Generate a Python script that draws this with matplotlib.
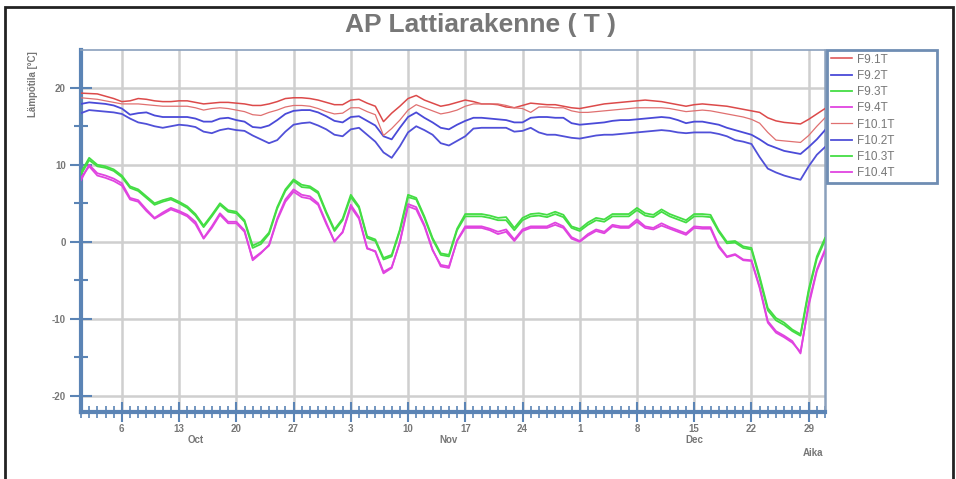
import numpy as np
import matplotlib
matplotlib.use("Agg")
import matplotlib.pyplot as plt
import matplotlib.dates as mdates
from matplotlib.ticker import FuncFormatter, MultipleLocator
from matplotlib.patches import Rectangle

plt.rcParams['font.family'] = ['Liberation Sans', 'DejaVu Sans']
plt.rcParams['axes.unicode_minus'] = False

# daily readings, 1 Oct .. 31 Dec
days = np.arange(np.datetime64('2014-10-01'), np.datetime64('2015-01-01'))

f9_1 = [19.3, 19.25, 19.2, 18.9, 18.6, 18.2, 18.3, 18.6, 18.5, 18.3,
        18.2, 18.2, 18.3, 18.3, 18.1, 17.9, 18.0, 18.1, 18.1, 18.0,
        17.9, 17.7, 17.7, 17.9, 18.2, 18.6, 18.7, 18.7, 18.6, 18.4,
        18.1, 17.8, 17.8, 18.4, 18.5, 18.0, 17.6, 15.6, 16.7, 17.6,
        18.6, 19.0, 18.4, 18.0, 17.6, 17.8, 18.1, 18.4, 18.2, 17.9,
        17.9, 17.8, 17.5, 17.4, 17.7, 18.0, 17.9, 17.8, 17.8, 17.6,
        17.4, 17.3, 17.5, 17.7, 17.9, 18.0, 18.1, 18.2, 18.3, 18.4,
        18.3, 18.2, 18.0, 17.8, 17.6, 17.8, 17.9, 17.8, 17.7, 17.6,
        17.4, 17.2, 17.0, 16.8, 16.1, 15.7, 15.5, 15.4, 15.3, 15.9,
        16.6, 17.3]
f10_1 = [18.7, 18.6, 18.5, 18.3, 18.1, 17.9, 17.9, 17.9, 17.8, 17.7,
         17.6, 17.6, 17.6, 17.6, 17.4, 17.1, 17.3, 17.4, 17.3, 17.1,
         16.9, 16.5, 16.4, 16.8, 17.1, 17.5, 17.7, 17.7, 17.6, 17.3,
         16.9, 16.6, 16.7, 17.4, 17.4, 16.9, 16.5, 13.8, 14.7, 15.8,
         17.1, 17.8, 17.4, 17.0, 16.6, 16.8, 17.1, 17.6, 17.9, 17.9,
         17.9, 17.9, 17.7, 17.4, 17.3, 16.8, 17.5, 17.5, 17.4, 17.4,
         17.0, 16.8, 16.8, 16.9, 17.0, 17.1, 17.2, 17.3, 17.4, 17.4,
         17.4, 17.4, 17.3, 17.1, 16.9, 17.0, 17.1, 17.0, 16.8, 16.6,
         16.4, 16.2, 15.9, 15.4, 14.2, 13.2, 13.1, 13.0, 12.9, 13.8,
         15.0, 16.1]
f9_2 = [17.9, 18.1, 18.0, 17.9, 17.7, 17.3, 16.5, 16.7, 16.8, 16.4,
        16.2, 16.2, 16.2, 16.2, 16.0, 15.6, 15.6, 16.0, 16.1, 15.8,
        15.6, 14.9, 14.8, 15.1, 15.8, 16.6, 17.0, 17.1, 17.1, 16.8,
        16.3, 15.7, 15.5, 16.2, 16.3, 15.7, 15.1, 13.7, 13.3, 14.8,
        16.2, 16.8, 16.1, 15.5, 14.8, 14.6, 15.2, 15.7, 16.1, 16.1,
        16.0, 15.9, 15.8, 15.5, 15.5, 16.1, 16.2, 16.2, 16.1, 16.1,
        15.4, 15.2, 15.3, 15.4, 15.5, 15.7, 15.8, 15.8, 15.9, 16.0,
        16.1, 16.2, 16.1, 15.8, 15.4, 15.6, 15.6, 15.4, 15.2, 14.8,
        14.5, 14.2, 13.9, 13.3, 12.6, 12.2, 11.8, 11.6, 11.4, 12.3,
        13.3, 14.5]
f10_2 = [16.7, 17.1, 17.0, 16.9, 16.8, 16.6, 16.0, 15.5, 15.3, 15.0,
         14.8, 15.0, 15.2, 15.1, 14.9, 14.3, 14.1, 14.5, 14.7, 14.5,
         14.4, 13.8, 13.3, 12.8, 13.2, 14.3, 15.2, 15.4, 15.5, 15.1,
         14.6, 13.9, 13.7, 14.6, 14.8, 13.9, 13.0, 11.6, 10.9, 12.4,
         14.2, 15.0, 14.5, 13.9, 12.8, 12.5, 13.1, 13.7, 14.7, 14.8,
         14.8, 14.8, 14.8, 14.3, 14.4, 14.8, 14.2, 13.9, 13.9, 13.7,
         13.5, 13.4, 13.6, 13.8, 13.9, 13.9, 14.0, 14.1, 14.2, 14.3,
         14.4, 14.5, 14.4, 14.2, 14.1, 14.2, 14.2, 14.2, 14.0, 13.7,
         13.2, 13.0, 12.7, 11.0, 9.5, 9.0, 8.6, 8.3, 8.05, 9.8,
         11.3, 12.3]
f9_3 = [9.0, 10.9, 10.0, 9.8, 9.4, 8.6, 7.2, 6.8, 5.9, 5.0,
        5.4, 5.7, 5.2, 4.6, 3.6, 2.1, 3.5, 5.0, 4.1, 3.9,
        2.8, -0.5, 0.0, 1.2, 4.5, 6.8, 8.1, 7.4, 7.2, 6.5,
        3.9, 1.6, 3.0, 6.1, 4.6, 0.7, 0.3, -2.1, -1.7, 1.6,
        6.1, 5.7, 3.3, 0.5, -1.5, -1.7, 1.7, 3.6, 3.6, 3.6,
        3.4, 3.1, 3.2, 1.8, 3.1, 3.6, 3.7, 3.5, 3.9, 3.5,
        2.0, 1.65, 2.5, 3.1, 2.9, 3.6, 3.6, 3.6, 4.4, 3.7,
        3.5, 4.2, 3.6, 3.2, 2.8, 3.6, 3.6, 3.5, 1.5, 0.0,
        0.1, -0.6, -0.8, -4.5, -8.6, -9.9, -10.5, -11.4, -12.0, -6.2,
        -1.9, 0.5]
f10_3 = [8.7, 10.6, 9.8, 9.6, 9.2, 8.4, 7.0, 6.6, 5.7, 4.8,
         5.2, 5.5, 5.0, 4.4, 3.4, 1.9, 3.3, 4.8, 3.9, 3.7,
         2.6, -0.8, -0.3, 1.0, 4.3, 6.6, 7.9, 7.1, 7.0, 6.3,
         3.7, 1.4, 2.8, 5.8, 4.4, 0.5, 0.1, -2.3, -1.9, 1.4,
         5.8, 5.5, 3.1, 0.3, -1.7, -1.9, 1.5, 3.3, 3.3, 3.3,
         3.1, 2.8, 2.8, 1.5, 2.8, 3.3, 3.4, 3.2, 3.6, 3.2,
         1.8, 1.4, 2.2, 2.8, 2.6, 3.3, 3.3, 3.3, 4.1, 3.4,
         3.2, 3.9, 3.3, 2.9, 2.5, 3.3, 3.3, 3.2, 1.3, -0.2,
         -0.1, -0.8, -1.0, -4.8, -8.9, -10.2, -10.8, -11.6, -12.2, -6.5,
         -2.2, 0.2]
f9_4 = [8.0, 10.0, 8.9, 8.6, 8.2, 7.6, 5.7, 5.4, 4.2, 3.1,
        3.8, 4.4, 4.0, 3.5, 2.6, 0.5, 2.0, 3.7, 2.6, 2.6,
        1.5, -2.4, -1.5, -0.4, 3.0, 5.5, 6.8, 6.1, 5.9, 5.0,
        2.5, 0.0, 1.3, 4.8, 3.2, -0.8, -1.3, -4.1, -3.4, 0.0,
        4.9, 4.5, 2.2, -1.0, -3.2, -3.4, 0.2, 2.0, 2.0, 2.0,
        1.7, 1.3, 1.6, 0.3, 1.6, 2.0, 2.0, 2.0, 2.5, 2.0,
        0.6, 0.1, 1.0, 1.6, 1.3, 2.2, 2.0, 2.0, 2.9, 2.0,
        1.8, 2.4, 1.9, 1.5, 1.1, 2.0, 1.9, 1.9, -0.5, -1.9,
        -1.6, -2.3, -2.4, -5.8, -10.3, -11.6, -12.2, -12.9, -14.5, -8.0,
        -3.6, -1.0]
f10_4 = [8.3, 9.8, 8.6, 8.3, 7.9, 7.3, 5.5, 5.2, 4.0, 3.0,
         3.6, 4.2, 3.8, 3.3, 2.3, 0.4, 1.8, 3.5, 2.4, 2.4,
         1.3, -2.2, -1.4, -0.5, 2.8, 5.2, 6.5, 5.8, 5.6, 4.8,
         2.3, 0.1, 1.2, 4.5, 3.0, -0.9, -1.2, -3.9, -3.3, -0.1,
         4.6, 4.2, 2.0, -1.1, -3.0, -3.2, 0.1, 1.8, 1.8, 1.8,
         1.5, 1.0, 1.3, 0.1, 1.4, 1.8, 1.8, 1.8, 2.2, 1.8,
         0.4, 0.0, 0.8, 1.4, 1.1, 2.0, 1.8, 1.8, 2.6, 1.8,
         1.6, 2.1, 1.7, 1.3, 0.9, 1.8, 1.7, 1.7, -0.7, -2.0,
         -1.7, -2.4, -2.5, -6.0, -10.5, -11.8, -12.4, -13.1, -14.3, -8.3,
         -3.8, -1.2]

labels = ["F9.1T", "F9.2T", "F9.3T", "F9.4T", "F10.1T", "F10.2T", "F10.3T", "F10.4T"]
series = [f9_1, f9_2, f9_3, f9_4, f10_1, f10_2, f10_3, f10_4]
colors = ["#dc4a4a", "#4a4ad8", "#44dd44", "#e044e0", "#e07070", "#5050d8", "#44dd44", "#e044e0"]
widths = [1.1, 1.3, 1.3, 1.3, 0.9, 1.3, 1.3, 1.3]

month_pos = [np.datetime64('2014-10-15'), np.datetime64('2014-11-15'), np.datetime64('2014-12-15')]
month_names = ["Oct", "Nov", "Dec"]

grey = "#777777"
axblue = "#5b84b5"

fig = plt.figure(figsize=(9.56, 4.79), dpi=100)
ax = fig.add_axes([0.0847, 0.1399, 0.7783, 0.7557])

x = mdates.date2num(days.astype('datetime64[D]').astype(object))
for vals, lab, c, w in zip(series, labels, colors, widths):
    ax.plot(x, vals, color=c, lw=w, label=lab, zorder=3)

ax.set_xlim(x[0], x[0] + 91)
ax.set_ylim(-22.1, 24.9)

ax.xaxis.set_major_locator(mdates.WeekdayLocator(byweekday=mdates.MO))
ax.xaxis.set_minor_locator(mdates.DayLocator())
ax.xaxis.set_major_formatter(FuncFormatter(lambda v, p: str(mdates.num2date(v).day)))
ax.yaxis.set_major_locator(MultipleLocator(10))
ax.yaxis.set_minor_locator(MultipleLocator(5))

ax.grid(True, which='major', color='#cfcfcf', lw=1.8, zorder=0)
ax.tick_params(axis='x', which='major', direction='inout', length=14, width=1.5, color=axblue,
               labelsize=7, labelcolor=grey, pad=1.5)
ax.tick_params(axis='x', which='minor', direction='inout', length=8, width=1.2, color=axblue)
ax.tick_params(axis='y', which='major', direction='inout', length=16, width=1.5, color=axblue,
               labelsize=7, labelcolor=grey, pad=3)
ax.tick_params(axis='y', which='minor', direction='inout', length=10, width=1.5, color=axblue)
for t in ax.get_xticklabels() + ax.get_yticklabels():
    t.set_fontweight('bold')

ax.spines['left'].set_color(axblue)
ax.spines['left'].set_linewidth(3)
ax.spines['bottom'].set_color(axblue)
ax.spines['bottom'].set_linewidth(3)
ax.spines['top'].set_color('#8aa0bc')
ax.spines['top'].set_linewidth(1.2)
ax.spines['right'].set_color('#8aa0bc')
ax.spines['right'].set_linewidth(1.8)

tr = ax.get_xaxis_transform()
for mp, mn in zip(month_pos, month_names):
    ax.text(mdates.date2num(mp.astype(object)), -0.078, mn, transform=tr, ha='center', va='center',
            fontsize=7, fontweight='bold', color=grey)

fig.text(813 / 956, 1 - 453 / 479, "Aika", ha='center', va='center', fontsize=7,
         fontweight='bold', color=grey)
fig.text(33 / 956, 1 - 84 / 479, "Lämpötila [°C]", rotation=90, ha='center', va='center',
         fontsize=7, fontweight='bold', color=grey)
fig.text(481 / 956, 1 - 25 / 479, "AP Lattiarakenne ( T )", ha='center', va='center',
         fontsize=19, fontweight='bold', color=grey)

leg = ax.legend(loc='upper left', bbox_to_anchor=(827 / 956, 1 - 50 / 479 - 0.4, 110 / 956, 0.4),
                bbox_transform=fig.transFigure, mode='expand', fontsize=8.5, frameon=True,
                fancybox=False, framealpha=1, edgecolor='#6f8db3', handlelength=1.8,
                labelspacing=0.36, borderpad=0.3, handletextpad=0.4, borderaxespad=0)
leg.get_frame().set_linewidth(2)
for t in leg.get_texts():
    t.set_color(grey)

fig.patches.append(Rectangle((5 / 956, -0.05), 948 / 956, 1.05 - 7 / 479, transform=fig.transFigure,
                             fill=False, edgecolor='#222222', lw=2))

fig.savefig("out.png", dpi=100)
